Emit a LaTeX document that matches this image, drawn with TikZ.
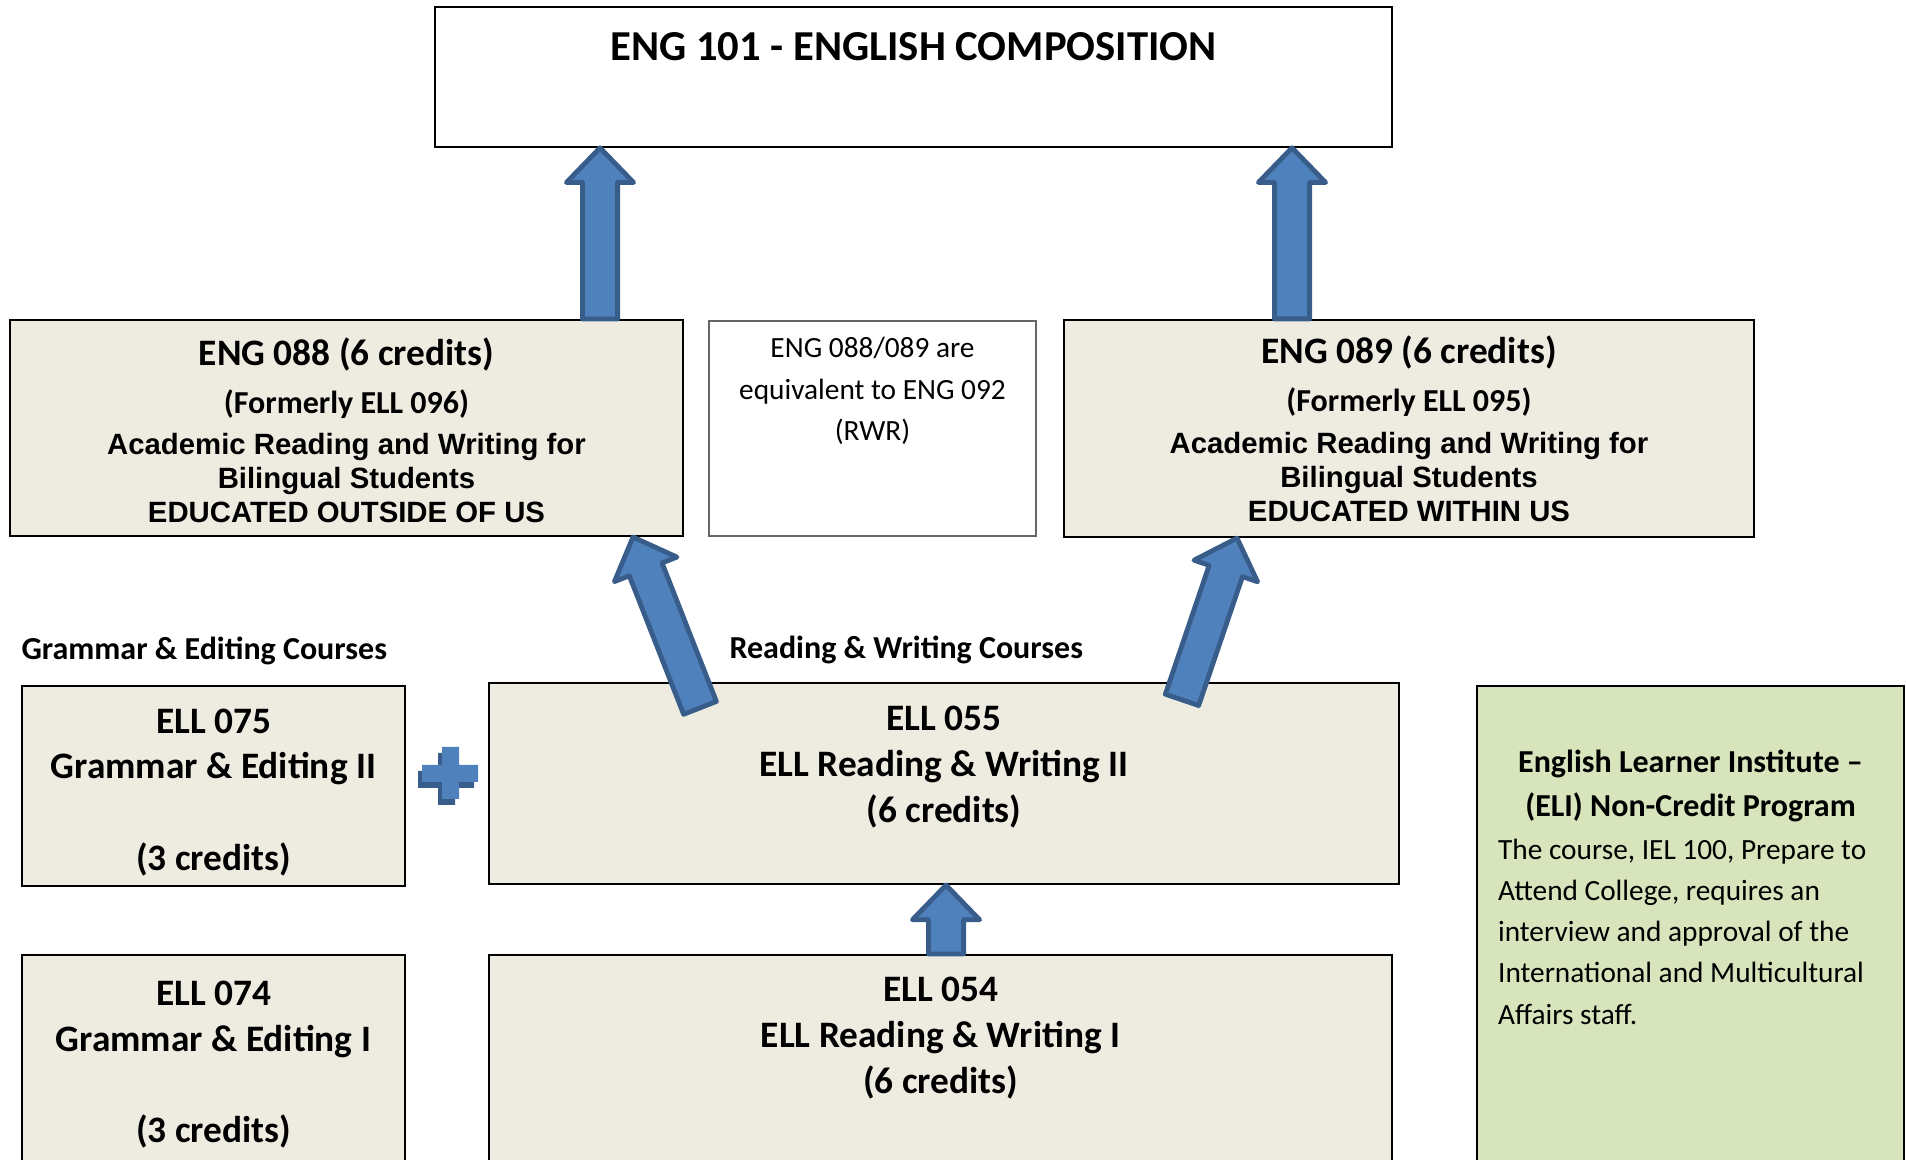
\documentclass[tikz,border=0pt]{standalone}
\usepackage{fontspec}
\setmainfont{Carlito}
\newfontfamily\arialfont{Liberation Sans}
\usetikzlibrary{calc,positioning}

\definecolor{boxtan}{RGB}{238,236,225}
\definecolor{eligreen}{RGB}{215,228,188}
\definecolor{arrblue}{RGB}{79,129,189}
\definecolor{arrdark}{RGB}{56,93,138}

% block arrow, tail #1 to tip #2
\newcommand{\blkarrow}[2]{%
  \draw[blk] let \p1=($(#2)-(#1)$), \n1={atan2(\y1,\x1)}, \n2={veclen(\x1,\y1)-13pt} in
    ($(#1)+(\n1+90:6.6pt)$) -- ($(#1)+(\n1:\n2)+(\n1+90:6.6pt)$)
    -- ($(#1)+(\n1:\n2)+(\n1+90:12.6pt)$) -- (#2)
    -- ($(#1)+(\n1:\n2)+(\n1-90:12.6pt)$) -- ($(#1)+(\n1:\n2)+(\n1-90:6.6pt)$)
    -- ($(#1)+(\n1-90:6.6pt)$) -- cycle;}

\begin{document}
\begin{tikzpicture}[x=0.375pt,y=-0.375pt,
  course/.style={draw=black,line width=.8pt,fill=boxtan,align=flush center,inner sep=0pt,font=\fontsize{14}{17.2}\selectfont\bfseries},
  blk/.style={fill=arrblue,draw=arrdark,line width=1.8pt,line join=round},
  grouphead/.style={anchor=west,inner sep=0pt,font=\fontsize{12}{14}\selectfont\bfseries}]
  \useasboundingbox (0,0) rectangle (1906,1160);
  \clip (0,0) rectangle (1906,1160);

  \node[draw=black,line width=.6pt,fill=white,minimum width=358.9pt,inner sep=0pt,text height=20pt,text depth=32.5pt,font=\fontsize{16}{19}\selectfont\bfseries] (e101) at (913.5,77) {ENG 101 - ENGLISH COMPOSITION};

  \node[course,minimum width=252.4pt,minimum height=81pt,text width=250pt] (e088) at (346.5,428)
    {\rule{0pt}{12pt}ENG 088 (6 credits)\\[4pt]
     \fontsize{12}{14}\selectfont (Formerly ELL 096)\\[3pt]
     \arialfont\fontsize{11}{12.7}\selectfont Academic Reading and Writing for\\Bilingual Students\\EDUCATED OUTSIDE OF US\par};
  \node[draw=black!60,line width=.5pt,fill=white,inner sep=0pt] (note) at (872.5,428.5)
    {\parbox[c][80.6pt][t]{122.6pt}{\centering\fontsize{11}{15.5}\selectfont\vspace*{3pt}\strut ENG 088/089 are\\equivalent to ENG 092\\(RWR)}};
  \node[course,minimum width=258.75pt,minimum height=81.4pt,text width=255pt] (e089) at (1409,428.5)
    {ENG 089 (6 credits)\\[4pt]
     \fontsize{12}{14}\selectfont (Formerly ELL 095)\\[3pt]
     \arialfont\fontsize{11}{12.7}\selectfont Academic Reading and Writing for\\Bilingual Students\\EDUCATED WITHIN US\par};

  \node[grouphead] (ghead) at (21,651) {Grammar \& Editing Courses};
  \node[grouphead] (rhead) at (729,650) {Reading \& Writing Courses};

  \node[course,minimum width=143.6pt,minimum height=75pt,text width=140pt] (e075) at (213.5,786) {\rule{0pt}{14pt}ELL 075\\Grammar \& Editing II\\~\\(3 credits)};
  \node[course,minimum width=341.25pt,minimum height=75.4pt,text width=335pt] (e055) at (944,783.5) {\rule{0pt}{12pt}ELL 055\\ELL Reading \& Writing II\\(6 credits)\\~};
  \node[course,minimum width=143.6pt,minimum height=79.5pt,text width=140pt] (e074) at (213.5,1061) {\rule{0pt}{12pt}ELL 074\\Grammar \& Editing I\\~\\(3 credits)};
  \node[course,minimum width=338.6pt,minimum height=79.5pt,text width=335pt] (e054) at (940.5,1061) {ELL 054\\ELL Reading \& Writing I\\(6 credits)\\[2pt]~};

  \node[draw=black,line width=.8pt,fill=eligreen,inner xsep=7.9pt,inner ysep=0pt] (eli) at (1690.5,936)
    {\parbox[c][187.5pt][t]{144.3pt}{\vspace*{20.5pt}%
      {\centering\fontsize{12}{16.8}\selectfont\bfseries\strut English Learner Institute –\\(ELI) Non-Credit Program\par}
      \vspace{0.7pt}
      {\raggedright\fontsize{11}{15.4}\selectfont The course, IEL 100, Prepare to\\Attend College, requires an\\interview and approval of the\\International and Multicultural\\Affairs staff.\par}}};

  % plus sign between the two course groups
  \fill[arrdark] (438,753) -- (455,753) -- (455,771) -- (474,771) -- (474,788) -- (455,788) -- (455,805) -- (438,805) -- (438,788) -- (418,788) -- (418,771) -- (438,771) -- cycle;
  \fill[arrblue] (442,747) -- (459,747) -- (459,765) -- (478,765) -- (478,782) -- (459,782) -- (459,799) -- (442,799) -- (442,782) -- (422,782) -- (422,765) -- (442,765) -- cycle;

  \coordinate (u1a) at (e088.north -| 600,0);
  \coordinate (u1b) at (e101.south -| 600,0);
  \coordinate (u2a) at (e089.north -| 1292,0);
  \coordinate (u2b) at (e101.south -| 1292,0);
  \coordinate (d1a) at ($(e055.north -| 700,0)+(0,26)$);
  \coordinate (d1b) at (e088.south -| 633,0);
  \coordinate (d2a) at ($(e055.north -| 1182,0)+(0,18)$);
  \coordinate (d2b) at (e089.south -| 1237,0);
  \coordinate (s1a) at (e054.north -| 946,0);
  \coordinate (s1b) at (e055.south -| 946,0);

  \blkarrow{u1a}{u1b}
  \blkarrow{u2a}{u2b}
  \blkarrow{d1a}{d1b}
  \blkarrow{d2a}{d2b}
  \blkarrow{s1a}{s1b}
\end{tikzpicture}
\end{document}
